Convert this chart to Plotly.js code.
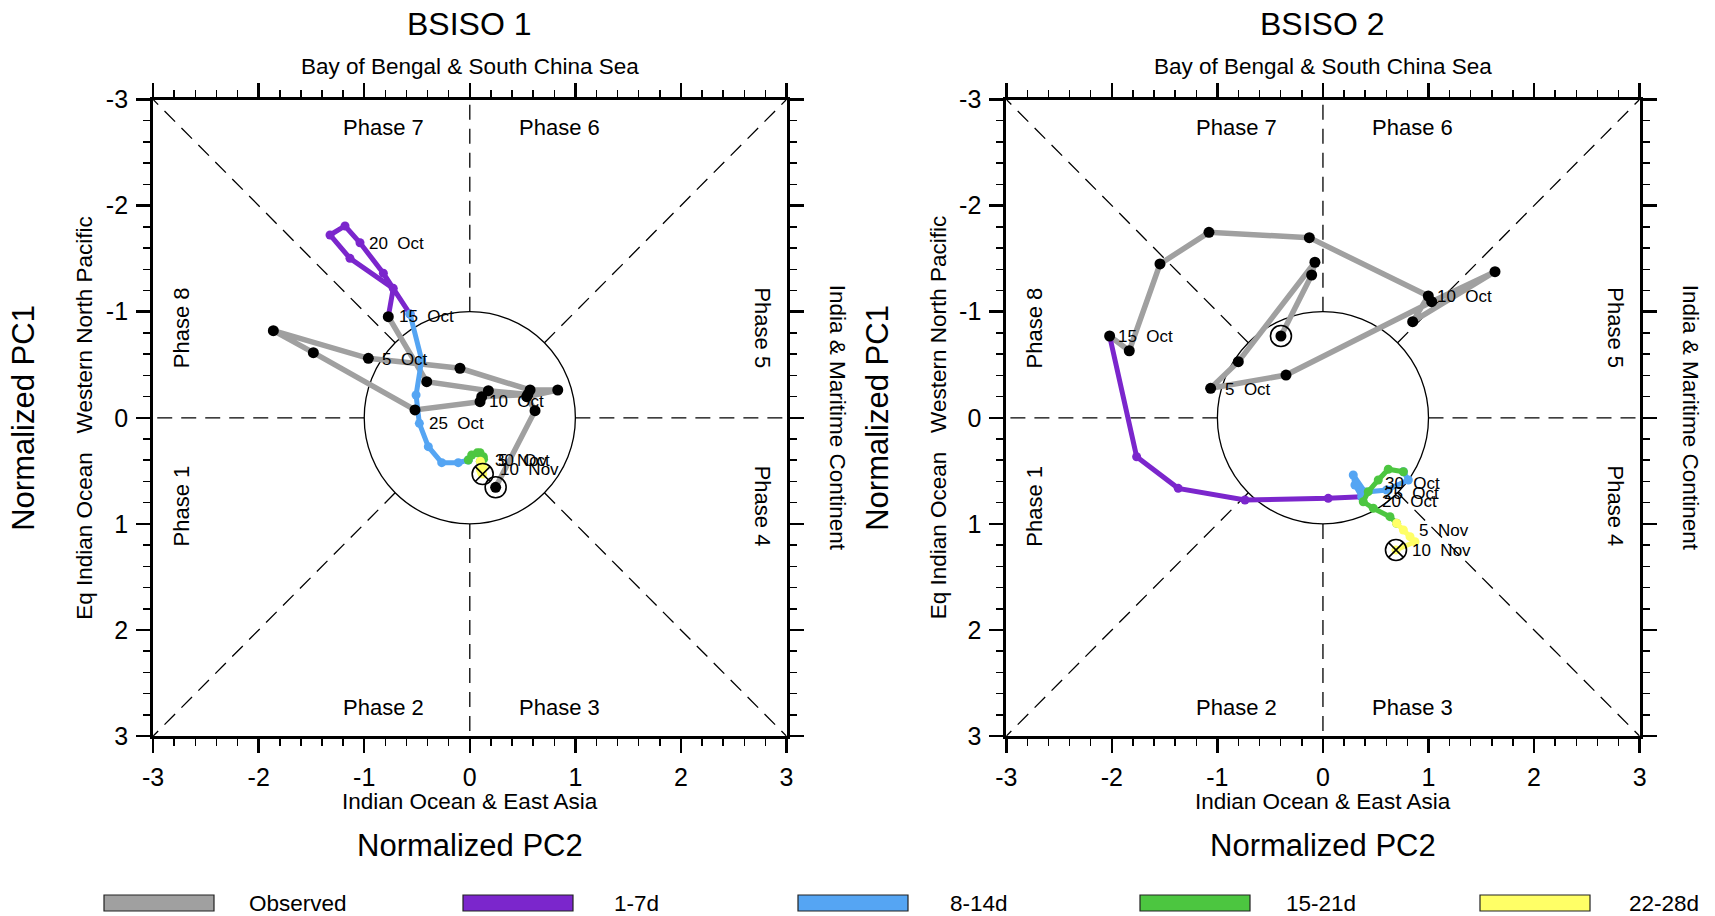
<!DOCTYPE html>
<html>
<head>
<meta charset="utf-8">
<script src="https://cdn.plot.ly/plotly-3.0.1.min.js"></script>
<style>html,body{margin:0;padding:0;background:#fff;}#chart{width:1715px;height:916px;}</style>
</head>
<body>
<div id="chart"></div>
<script>
// ---------------- DATA ----------------
const tickVals = [-3, -2, -1, 0, 1, 2, 3];
const tickLabels = ['-3', '-2', '-1', '0', '1', '2', '3'];

// BSISO 1 : observed (PC2 = x, PC1 = y)
const obs1X = [0.245, 0.618, 0.539, 0.833, 0.571, -0.093, -0.961, -1.861, -1.482, -0.519, 0.097, 0.113, 0.550, 0.176, -0.408, -0.772];
const obs1Y = [0.655, -0.067, -0.199, -0.262, -0.262, -0.467, -0.561, -0.821, -0.614, -0.074, -0.152, -0.199, -0.220, -0.256, -0.340, -0.953];
// BSISO 1 : forecasts
const fc1d1X = [-0.772, -0.725, -1.135, -1.324, -1.182, -1.040, -0.819, -0.566];
const fc1d1Y = [-0.953, -1.220, -1.503, -1.723, -1.808, -1.650, -1.362, -0.978];
const fc1d2X = [-0.566, -0.456, -0.509, -0.478, -0.393, -0.266, -0.109, -0.014];
const fc1d2Y = [-0.978, -0.545, -0.215, 0.052, 0.272, 0.423, 0.423, 0.398];
const fc1d3X = [-0.014, 0.018, 0.070, 0.097, 0.128, 0.130, 0.100];
const fc1d3Y = [0.398, 0.351, 0.330, 0.329, 0.367, 0.390, 0.410];
const fc1d4X = [0.100, 0.128, 0.100, 0.113, 0.122];
const fc1d4Y = [0.410, 0.461, 0.490, 0.523, 0.530];
const lab1Text = ['5\u00a0\u00a0Oct', '10\u00a0\u00a0Oct', '15\u00a0\u00a0Oct', '20\u00a0\u00a0Oct', '25\u00a0\u00a0Oct', '30\u00a0\u00a0Oct', '5\u00a0\u00a0Nov', '10\u00a0\u00a0Nov'];
const lab1X = [-0.849, 0.160, -0.692, -0.977, -0.408, 0.223, 0.245, 0.270];
const lab1Y = [-0.545, -0.152, -0.953, -1.645, 0.052, 0.398, 0.400, 0.490];

// BSISO 2 : observed
const obs2X = [-0.398, -0.107, -0.076, -0.802, -1.064, -0.350, 1.030, 1.630, 0.850, 0.998, -0.129, -1.080, -1.544, -1.835, -2.021];
const obs2Y = [-0.771, -1.346, -1.466, -0.529, -0.278, -0.403, -1.094, -1.377, -0.906, -1.148, -1.698, -1.748, -1.450, -0.632, -0.771];
// BSISO 2 : forecasts
const fc2d1X = [-2.021, -1.765, -1.371, -0.739, 0.050, 0.367];
const fc2d1Y = [-0.771, 0.367, 0.665, 0.775, 0.759, 0.744];
const fc2d2X = [0.367, 0.303, 0.287, 0.400, 0.604, 0.809, 0.762];
const fc2d2Y = [0.744, 0.633, 0.539, 0.700, 0.680, 0.586, 0.508];
const fc2d3X = [0.762, 0.619, 0.524, 0.429, 0.382, 0.477, 0.635, 0.698];
const fc2d3Y = [0.508, 0.485, 0.586, 0.696, 0.791, 0.853, 0.932, 0.994];
const fc2d4X = [0.698, 0.762, 0.825, 0.872, 0.692];
const fc2d4Y = [0.994, 1.058, 1.120, 1.168, 1.246];
const lab2Text = ['5\u00a0\u00a0Oct', '10\u00a0\u00a0Oct', '15\u00a0\u00a0Oct', '20\u00a0\u00a0Oct', '25\u00a0\u00a0Oct', '30\u00a0\u00a0Oct', '5\u00a0\u00a0Nov', '10\u00a0\u00a0Nov'];
const lab2X = [-0.950, 1.061, -1.961, 0.540, 0.556, 0.572, 0.888, 0.824];
const lab2Y = [-0.269, -1.141, -0.764, 0.791, 0.711, 0.617, 1.058, 1.246];

// phase labels
const phaseText = ['Phase 7', 'Phase 6', 'Phase 8', 'Phase 1', 'Phase 5', 'Phase 4', 'Phase 2', 'Phase 3'];
const phaseX = [-0.82, 0.85, -2.73, -2.73, 2.77, 2.77, -0.82, 0.85];
const phaseY = [-2.74, -2.74, -0.85, 0.83, -0.85, 0.83, 2.73, 2.73];
const phaseAngle = [0, 0, -90, -90, 90, 90, 0, 0];

// legend
const seriesNames = ['Observed', '1-7d', '8-14d', '15-21d', '22-28d'];
const seriesColors = ['#a0a0a0', '#7b26cc', '#55a5f3', '#4cc640', '#ffff66'];

// ---------------- BUILD ----------------
const FONT = 'Liberation Sans, Arial, Helvetica, sans-serif';
const W = 1715, H = 916;
const px = v => v / W;
const py = v => 1 - v / H;

const dom1 = [px(153.1), px(786.5)];
const dom2 = [px(1006.3), px(1639.6)];
const domY = [py(736.1), py(99.5)];

function axis(domain, anchor, isY) {
  return {
    domain: domain, anchor: anchor,
    range: isY ? [3, -3] : [-3, 3],
    showgrid: false, zeroline: false,
    showline: true, linewidth: 3, linecolor: '#000',
    mirror: 'ticks', ticks: 'outside', ticklen: 14, tickwidth: 2.5, tickcolor: '#000',
    tickmode: 'array', tickvals: tickVals, ticktext: tickLabels,
    tickfont: {family: FONT, size: 25, color: '#000'},
    ticklabelstandoff: 3,
    minor: {tickmode: 'linear', tick0: -3, dtick: 0.2, ticks: 'outside', ticklen: 7, tickwidth: 1.5, tickcolor: '#000', showgrid: false},
    fixedrange: true
  };
}

const traces = [];
function addPanel(xa, ya, ox, oy, fcs) {
  traces.push({x: ox, y: oy, xaxis: xa, yaxis: ya, mode: 'lines', line: {color: seriesColors[0], width: 5.5}, hoverinfo: 'skip', showlegend: false});
  fcs.forEach((f, i) => {
    traces.push({x: f[0], y: f[1], xaxis: xa, yaxis: ya, mode: 'lines+markers',
      line: {color: seriesColors[i + 1], width: 5}, marker: {color: seriesColors[i + 1], size: 9},
      hoverinfo: 'skip', showlegend: false});
  });
  traces.push({x: ox, y: oy, xaxis: xa, yaxis: ya, mode: 'markers', marker: {color: '#000', size: 11}, hoverinfo: 'skip', showlegend: false});
  // start marker (first observed point) and end marker (last forecast point)
  traces.push({x: [ox[0]], y: [oy[0]], xaxis: xa, yaxis: ya, mode: 'markers',
    marker: {symbol: 'circle-open', size: 21, color: '#000', line: {width: 1.6, color: '#000'}}, hoverinfo: 'skip', showlegend: false});
  const last = fcs[fcs.length - 1];
  traces.push({x: [last[0][last[0].length - 1]], y: [last[1][last[1].length - 1]], xaxis: xa, yaxis: ya, mode: 'markers',
    marker: {symbol: 'circle-x-open', size: 21, color: '#000', line: {width: 1.6, color: '#000'}}, hoverinfo: 'skip', showlegend: false});
}
addPanel('x', 'y', obs1X, obs1Y, [[fc1d1X, fc1d1Y], [fc1d2X, fc1d2Y], [fc1d3X, fc1d3Y], [fc1d4X, fc1d4Y]]);
addPanel('x2', 'y2', obs2X, obs2Y, [[fc2d1X, fc2d1Y], [fc2d2X, fc2d2Y], [fc2d3X, fc2d3Y], [fc2d4X, fc2d4Y]]);

const shapes = [];
const annotations = [];
function panelDecor(xr, yr, labT, labX, labY) {
  // unit circle
  shapes.push({type: 'circle', xref: xr, yref: yr, x0: -1, x1: 1, y0: -1, y1: 1, line: {color: '#000', width: 1.3}, layer: 'below'});
  // phase boundaries
  for (let k = 0; k < 8; k++) {
    const a = k * Math.PI / 4;
    const c = Math.cos(a), s = Math.sin(a);
    const outer = 3 / Math.max(Math.abs(c), Math.abs(s));
    shapes.push({type: 'line', xref: xr, yref: yr, x0: c, y0: s, x1: outer * c, y1: outer * s,
      line: {color: '#000', width: 1.3, dash: '15px,9px'}, layer: 'below'});
  }
  phaseText.forEach((t, i) => annotations.push({xref: xr, yref: yr, x: phaseX[i], y: phaseY[i], text: t, showarrow: false,
    textangle: phaseAngle[i], font: {family: FONT, size: 22, color: '#000'}}));
  labT.forEach((t, i) => annotations.push({xref: xr, yref: yr, x: labX[i], y: labY[i], text: t, showarrow: false,
    xanchor: 'left', yanchor: 'middle', font: {family: FONT, size: 17, color: '#000'}}));
}
panelDecor('x', 'y', lab1Text, lab1X, lab1Y);
panelDecor('x2', 'y2', lab2Text, lab2X, lab2Y);

function paperText(text, x, y, size, angle) {
  annotations.push({xref: 'paper', yref: 'paper', x: x, y: y, text: text, showarrow: false, xanchor: 'center', yanchor: 'middle',
    textangle: angle || 0, font: {family: FONT, size: size, color: '#000'}});
}
const titles = ['BSISO 1', 'BSISO 2'];
[[dom1, 24, 85, 837, titles[0]], [dom2, 878, 938.5, 1690, titles[1]]].forEach(([d, pc1x, eqx, indx, ttl]) => {
  const cx = (d[0] + d[1]) / 2;
  paperText(ttl, cx, py(24), 32);
  paperText('Bay of Bengal &amp; South China Sea', cx, py(66), 22.5);
  paperText('Indian Ocean &amp; East Asia', cx, py(801), 22.5);
  paperText('Normalized PC2', cx, py(845), 31);
  const cy = (domY[0] + domY[1]) / 2;
  paperText('Normalized PC1', px(pc1x), cy, 31, -90);
  paperText('Eq Indian Ocean\u00a0\u00a0\u00a0Western North Pacific', px(eqx), cy, 22.5, -90);
  paperText('India &amp; Maritime Continent', px(indx), cy, 22.5, 90);
});

// legend bar
const legBoxX = [104, 463, 798, 1140, 1480];
const legTextX = [247, 612, 948, 1284, 1627];
seriesNames.forEach((n, i) => {
  shapes.push({type: 'rect', xref: 'paper', yref: 'paper', x0: px(legBoxX[i]), x1: px(legBoxX[i] + 110), y0: py(911), y1: py(895),
    fillcolor: seriesColors[i], line: {color: '#222', width: 1.2}});
  annotations.push({xref: 'paper', yref: 'paper', x: px(legTextX[i]), y: py(903), text: n, showarrow: false, xanchor: 'left', yanchor: 'middle',
    font: {family: FONT, size: 22.5, color: '#000'}});
});

const layout = {
  width: W, height: H,
  margin: {l: 0, r: 0, t: 0, b: 0},
  paper_bgcolor: '#fff', plot_bgcolor: '#fff',
  showlegend: false,
  xaxis: axis(dom1, 'y', false), yaxis: axis(domY, 'x', true),
  xaxis2: axis(dom2, 'y2', false), yaxis2: axis(domY, 'x2', true),
  shapes: shapes, annotations: annotations,
  font: {family: FONT, color: '#000'}
};

Plotly.newPlot('chart', traces, layout, {displayModeBar: false, staticPlot: true});
</script>
</body>
</html>
